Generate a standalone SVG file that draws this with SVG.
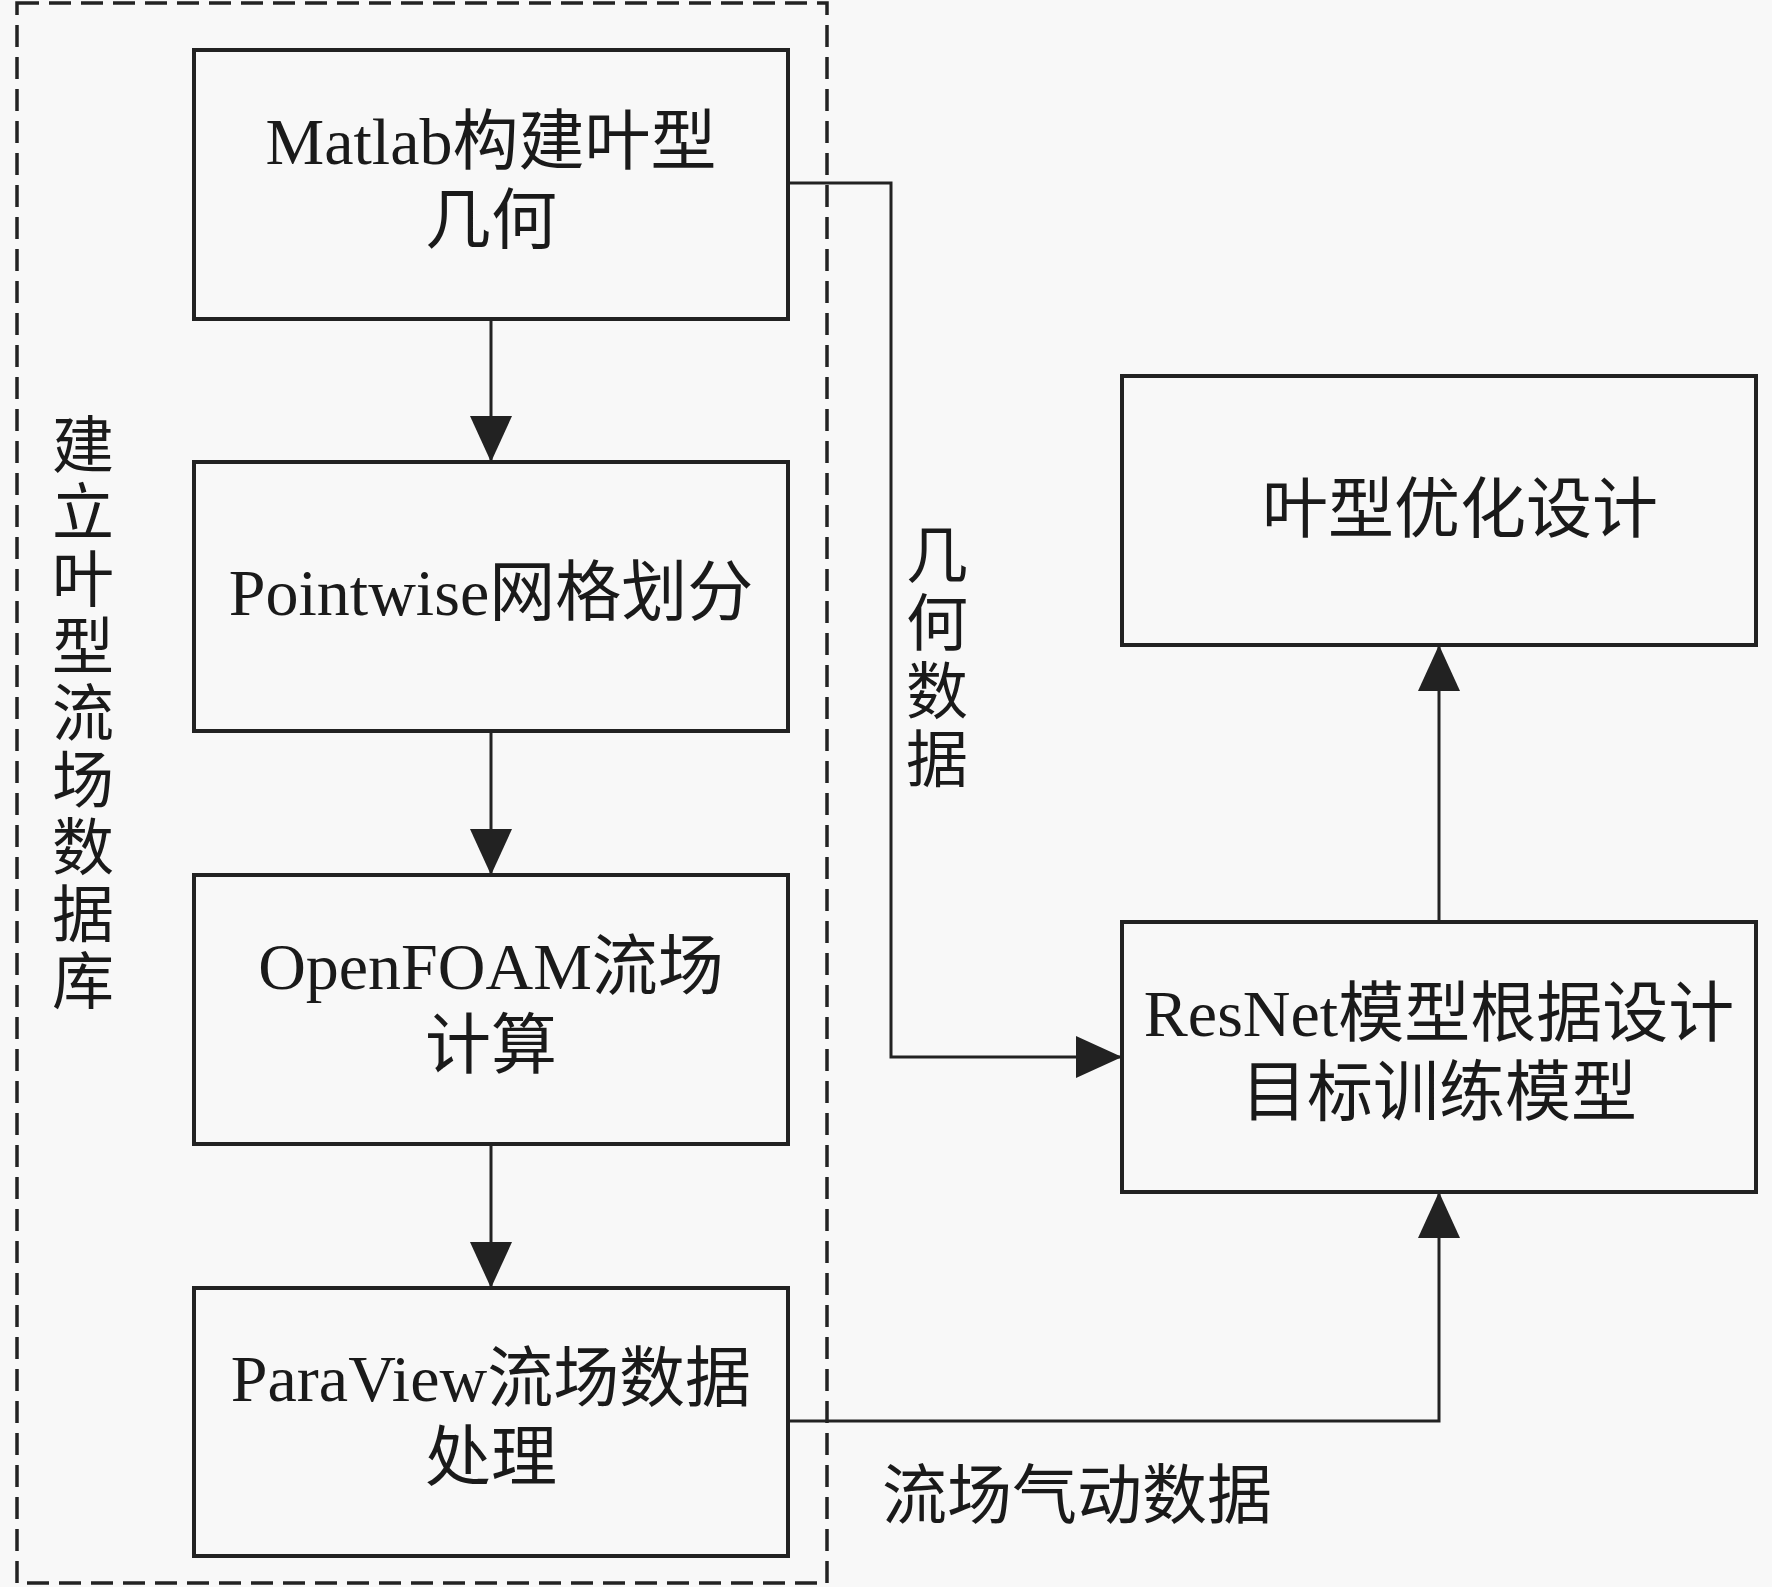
<svg xmlns="http://www.w3.org/2000/svg" width="1772" height="1587" viewBox="0 0 1772 1587">
<defs>
<style>
.box{fill:none;stroke:#222;stroke-width:4}
.ln{fill:none;stroke:#222;stroke-width:3}
.t{font-family:"Liberation Serif","Noto Sans CJK SC",serif;font-size:66px;fill:#1a1a1a;text-anchor:middle}
.lbl{font-family:"Liberation Serif","Noto Sans CJK SC",serif;font-size:62px;fill:#1a1a1a}
</style>
<marker id="ah" markerUnits="userSpaceOnUse" markerWidth="46" markerHeight="42" viewBox="0 0 46 42" refX="46" refY="21" orient="auto">
<path d="M0,0 L46,21 L0,42 Z" fill="#222"/>
</marker>
</defs>
<rect width="1772" height="1587" fill="#f8f8f8"/>
<g id="group-database">
<rect x="17" y="3" width="810" height="1580" fill="none" stroke="#222" stroke-width="3.5" stroke-dasharray="22 10"/>
<text class="lbl" text-anchor="middle">
<tspan x="83" y="468">建</tspan><tspan x="83" dy="67">立</tspan><tspan x="83" dy="67">叶</tspan><tspan x="83" dy="67">型</tspan><tspan x="83" dy="67">流</tspan><tspan x="83" dy="67">场</tspan><tspan x="83" dy="67">数</tspan><tspan x="83" dy="67">据</tspan><tspan x="83" dy="67">库</tspan>
</text>
</g>
<g id="node-matlab">
<rect class="box" x="194" y="50" width="594" height="269"/>
<text class="t" x="491" y="164">Matlab构建叶型</text>
<text class="t" x="491" y="243">几何</text>
</g>
<g id="node-pointwise">
<rect class="box" x="194" y="462" width="594" height="269"/>
<text class="t" x="491" y="615">Pointwise网格划分</text>
</g>
<g id="node-openfoam">
<rect class="box" x="194" y="875" width="594" height="269"/>
<text class="t" x="491" y="989">OpenFOAM流场</text>
<text class="t" x="491" y="1068">计算</text>
</g>
<g id="node-paraview">
<rect class="box" x="194" y="1288" width="594" height="268"/>
<text class="t" x="491" y="1401">ParaView流场数据</text>
<text class="t" x="491" y="1480">处理</text>
</g>
<g id="node-optimize">
<rect class="box" x="1122" y="376" width="634" height="269"/>
<text class="t" x="1460" y="532">叶型优化设计</text>
</g>
<g id="node-resnet">
<rect class="box" x="1122" y="922" width="634" height="270"/>
<text class="t" x="1439" y="1036">ResNet模型根据设计</text>
<text class="t" x="1439" y="1115">目标训练模型</text>
</g>
<g id="connectors">
<line class="ln" x1="491" y1="319" x2="491" y2="462" marker-end="url(#ah)"/>
<line class="ln" x1="491" y1="731" x2="491" y2="875" marker-end="url(#ah)"/>
<line class="ln" x1="491" y1="1144" x2="491" y2="1288" marker-end="url(#ah)"/>
<path class="ln" d="M788,183 H891 V1057 H1122" marker-end="url(#ah)"/>
<path class="ln" d="M788,1421 H1439 V1192" marker-end="url(#ah)"/>
<line class="ln" x1="1439" y1="922" x2="1439" y2="645" marker-end="url(#ah)"/>
<text class="lbl" text-anchor="middle"><tspan x="937" y="578">几</tspan><tspan x="937" dy="68">何</tspan><tspan x="937" dy="68">数</tspan><tspan x="937" dy="68">据</tspan></text>
<text class="lbl" x="882" y="1518" style="font-size:65px">流场气动数据</text>
</g>
</svg>
